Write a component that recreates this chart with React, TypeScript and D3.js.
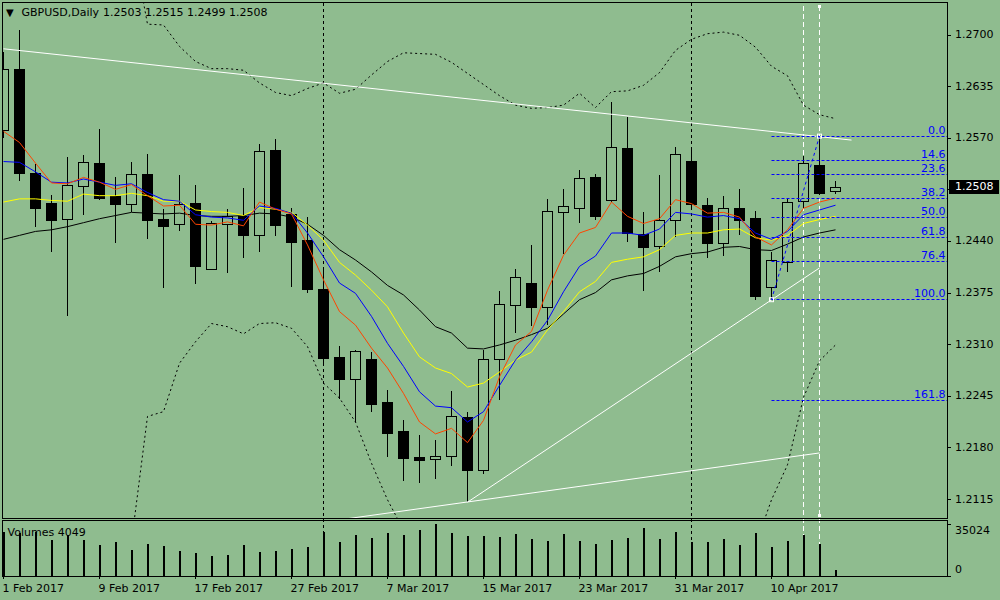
import React from 'react';
import * as d3 from 'd3';

// ---------- DATA ----------
const symbolTitle = 'GBPUSD,Daily';

const tradingDays: Date[] = d3.timeDay
  .range(new Date(2017, 1, 1), new Date(2017, 3, 15))
  .filter((d) => d.getDay() !== 0 && d.getDay() !== 6);
const fmtDate = d3.timeFormat('%-d %b %Y');
const dateLabels = tradingDays.map((d) => fmtDate(d));

const open = [
  1.2580, 1.2657, 1.2526, 1.2488, 1.2468, 1.2509, 1.2538, 1.2496, 1.2486, 1.2524,
  1.2468, 1.2461, 1.2488, 1.2405, 1.2461, 1.2472, 1.2447, 1.2555, 1.2474, 1.2441,
  1.2379, 1.2294, 1.2266, 1.2291, 1.2237, 1.2201, 1.2168, 1.2166, 1.2169, 1.2218,
  1.2151, 1.2291, 1.2359, 1.2387, 1.2357, 1.2477, 1.2482, 1.2520, 1.2492, 1.2557,
  1.2449, 1.2434, 1.2467, 1.2541, 1.2485, 1.2438, 1.2481, 1.2469, 1.2382, 1.2414,
  1.2490, 1.2536, 1.2503,
];
const high = [
  1.2678, 1.2706, 1.2537, 1.2498, 1.2546, 1.2548, 1.2581, 1.2520, 1.2539, 1.2549,
  1.2480, 1.2523, 1.2510, 1.2465, 1.2480, 1.2507, 1.2562, 1.2568, 1.2481, 1.2470,
  1.2403, 1.2308, 1.2303, 1.2300, 1.2252, 1.2214, 1.2195, 1.2189, 1.2251, 1.2224,
  1.2303, 1.2377, 1.2405, 1.2435, 1.2493, 1.2505, 1.2529, 1.2524, 1.2615, 1.2596,
  1.2476, 1.2523, 1.2558, 1.2555, 1.2494, 1.2497, 1.2505, 1.2478, 1.2426, 1.2494,
  1.2547, 1.2572, 1.2515,
];
const low = [
  1.2570, 1.2516, 1.2458, 1.2426, 1.2345, 1.2473, 1.2491, 1.2438, 1.2477, 1.2442,
  1.2381, 1.2453, 1.2386, 1.2403, 1.2400, 1.2419, 1.2426, 1.2446, 1.2382, 1.2374,
  1.2284, 1.2241, 1.2212, 1.2224, 1.2168, 1.2138, 1.2135, 1.2140, 1.2157, 1.2111,
  1.2147, 1.2240, 1.2324, 1.2333, 1.2334, 1.2423, 1.2462, 1.2467, 1.2489, 1.2439,
  1.2377, 1.2401, 1.2445, 1.2479, 1.2418, 1.2421, 1.2447, 1.2365, 1.2366, 1.2401,
  1.2481, 1.2498, 1.2499,
];
const close = [
  1.2657, 1.2526, 1.2481, 1.2467, 1.2510, 1.2539, 1.2494, 1.2487, 1.2524, 1.2467,
  1.2459, 1.2487, 1.2409, 1.2462, 1.2472, 1.2448, 1.2553, 1.2460, 1.2439, 1.2380,
  1.2292, 1.2266, 1.2301, 1.2235, 1.2198, 1.2167, 1.2164, 1.2169, 1.2219, 1.2152,
  1.2291, 1.2360, 1.2395, 1.2357, 1.2478, 1.2484, 1.2519, 1.2472, 1.2558, 1.2450,
  1.2433, 1.2467, 1.2550, 1.2486, 1.2438, 1.2482, 1.2467, 1.2371, 1.2416, 1.2489,
  1.2538, 1.2501, 1.2508,
];
const volume = [
  29840, 28960, 29840, 24250, 27610, 24250, 20880, 22900, 17510, 21550,
  20210, 16840, 15490, 13470, 14140, 20880, 16160, 16840, 18180, 19530,
  29840, 22900, 27610, 25590, 28960, 27610, 30980, 35024, 28960, 26940,
  26940, 26270, 28290, 24920, 23570, 28290, 23570, 21550, 24250, 25590,
  32330, 24920, 29630, 22900, 22900, 24920, 20880, 28960, 19530, 23570,
  27610, 21550, 4049,
];

// moving averages
const maRed = [
  1.2578, 1.2564, 1.2538, 1.2513, 1.2512, 1.2520, 1.2514, 1.2505, 1.2511, 1.2497,
  1.2484, 1.2485, 1.2461, 1.2460, 1.2464, 1.2459, 1.2489, 1.2480, 1.2474, 1.2435,
  1.2391, 1.2351, 1.2334, 1.2305, 1.2280, 1.2248, 1.2212, 1.2197, 1.2204, 1.2186,
  1.2214, 1.2269, 1.2309, 1.2326, 1.2378, 1.2422, 1.2450, 1.2457, 1.2489, 1.2471,
  1.2462, 1.2468, 1.2492, 1.2487, 1.2475, 1.2476, 1.2470, 1.2445, 1.2435, 1.2454,
  1.2481, 1.2489, 1.2494,
];
const maBlue = [
  1.2540, 1.2539, 1.2527, 1.2514, 1.2513, 1.2518, 1.2514, 1.2510, 1.2512, 1.2501,
  1.2492, 1.2490, 1.2473, 1.2470, 1.2469, 1.2466, 1.2484, 1.2481, 1.2475, 1.2450,
  1.2420, 1.2387, 1.2374, 1.2345, 1.2311, 1.2282, 1.2250, 1.2232, 1.2230, 1.2212,
  1.2225, 1.2258, 1.2290, 1.2313, 1.2340, 1.2376, 1.2408, 1.2421, 1.2450, 1.2450,
  1.2447, 1.2455, 1.2476, 1.2474, 1.2470, 1.2472, 1.2468, 1.2450, 1.2442, 1.2452,
  1.2473, 1.2479, 1.2485,
];
const maYellow = [
  1.2489, 1.2493, 1.2493, 1.2491, 1.2490, 1.2499, 1.2497, 1.2497, 1.2500, 1.2497,
  1.2490, 1.2490, 1.2479, 1.2477, 1.2476, 1.2472, 1.2482, 1.2480, 1.2476, 1.2460,
  1.2441, 1.2413, 1.2397, 1.2378, 1.2357, 1.2324, 1.2294, 1.2280, 1.2273, 1.2256,
  1.2261, 1.2275, 1.2290, 1.2300, 1.2328, 1.2351, 1.2376, 1.2389, 1.2413, 1.2417,
  1.2420, 1.2429, 1.2447, 1.2450, 1.2450, 1.2454, 1.2455, 1.2444, 1.2441, 1.2447,
  1.2462, 1.2467, 1.2471,
];
const maBlack = [
  1.2442, 1.2447, 1.2452, 1.2454, 1.2458, 1.2463, 1.2468, 1.2472, 1.2476, 1.2475,
  1.2474, 1.2475, 1.2472, 1.2471, 1.2471, 1.2472, 1.2475, 1.2474, 1.2470, 1.2461,
  1.2447, 1.2429, 1.2416, 1.2401, 1.2384, 1.2372, 1.2353, 1.2332, 1.2324, 1.2305,
  1.2304, 1.2309, 1.2315, 1.2322, 1.2330, 1.2348, 1.2366, 1.2375, 1.2391, 1.2396,
  1.2399, 1.2408, 1.2420, 1.2424, 1.2426, 1.2432, 1.2433, 1.2429, 1.2428, 1.2436,
  1.2445, 1.2450, 1.2454,
];
// bands (dotted black), null where not drawn
const bandUpper: (number | null)[] = [
  null, null, null, null, null, null, null, null, 1.2822, 1.2713,
  1.2712, 1.2685, 1.2666, 1.2657, 1.2657, 1.2655, 1.2639, 1.2627, 1.2623, 1.2632,
  1.2639, 1.2626, 1.2631, 1.2649, 1.2666, 1.2677, 1.2676, 1.2675, 1.2665, 1.2651,
  1.2637, 1.2623, 1.2611, 1.2607, 1.2608, 1.2611, 1.2626, 1.2608, 1.2628, 1.2629,
  1.2636, 1.2652, 1.2680, 1.2694, 1.2701, 1.2703, 1.2699, 1.2684, 1.2660, 1.2648,
  1.2611, 1.2599, 1.2594,
];
const bandLower: (number | null)[] = [
  null, null, null, null, null, null, null, null, 1.2061, 1.2219,
  1.2225, 1.2286, 1.2313, 1.2336, 1.2332, 1.2323, 1.2336, 1.2337, 1.2330, 1.2307,
  1.2261, 1.2242, 1.2212, 1.2160, 1.2114, 1.2076, 1.2038, 1.2000, 1.1975, 1.1937,
  1.1925, 1.1912, 1.1912, 1.1925, 1.1937, 1.1950, 1.1962, 1.1956, 1.1950, 1.1950,
  1.1956, 1.1975, 1.1988, 1.2000, 1.2013, 1.2019, 1.2025, 1.2057, 1.2114, 1.2158,
  1.2243, 1.2289, 1.2309,
];

const priceTicks = [1.27, 1.2635, 1.257, 1.2505, 1.244, 1.2375, 1.231, 1.2245, 1.218, 1.2115];
const volumeMax = 35024;

// trend lines (bar index, price)
const downTrend = [{ bar: 0, price: 1.2682 }, { bar: 53, price: 1.2567 }];
const upTrendSteep = [{ bar: 29, price: 1.2111 }, { bar: 51, price: 1.2406 }];
const upTrendShallow = [{ bar: 20, price: 1.2086 }, { bar: 51, price: 1.2173 }];
const verticalLineBars = [50, 51];

// Fibonacci retracement
const fibHigh = { bar: 51, price: 1.2572 };
const fibLow = { bar: 48, price: 1.2366 };
const fibLevels = [0, 0.146, 0.236, 0.382, 0.5, 0.618, 0.764, 1.0, 1.618];

// ---------- LAYOUT ----------
const W = 1000;
const H = 600;
const BG = '#8fbc8f';
const FIB = 'rgb(0,0,255)';
const FONT = 'DejaVu Sans, Verdana, sans-serif';
const FS = 11;
const paneL = 2.5;
const paneR = 947.5;
const mainTop = 2.5;
const mainBottom = 518;
const volTop = 520.5;
const volBottom = 576;

export default function App() {
  const n = close.length;
  const x = d3.scaleLinear().domain([0, n - 1]).range([3.5, 3.5 + 16 * (n - 1)]);
  const y = d3.scaleLinear().domain([1.2115, 1.27]).range([499, 34.5]);
  const yv = d3.scaleLinear().domain([0, volumeMax]).range([volBottom, 524]);

  const line = d3
    .line<number | null>()
    .defined((v) => v != null)
    .x((_, i) => x(i))
    .y((v) => y(v as number));

  const monthStarts = tradingDays
    .map((d, i) => (i > 0 && d.getMonth() !== tradingDays[i - 1].getMonth() ? i : -1))
    .filter((i) => i >= 0);
  const labelIdx = d3.range(0, n, 6);

  const fibRange = fibHigh.price - fibLow.price;
  const last = n - 1;
  const fmt4 = (v: number) => v.toFixed(4);
  const lastY = y(close[last]);

  const seg = (pts: { bar: number; price: number }[]) => ({
    x1: x(pts[0].bar),
    y1: y(pts[0].price),
    x2: x(pts[1].bar),
    y2: y(pts[1].price),
  });

  return (
    <svg
      width={W}
      height={H}
      style={{ position: 'fixed', left: 0, top: 0, background: BG }}
      fontFamily={FONT}
      fontSize={FS}
    >
      <defs>
        <clipPath id="mainClip">
          <rect x={paneL} y={mainTop} width={paneR - paneL} height={mainBottom - mainTop} />
        </clipPath>
        <clipPath id="volClip">
          <rect x={paneL} y={volTop} width={paneR - paneL} height={volBottom - volTop} />
        </clipPath>
      </defs>
      <rect x={0} y={0} width={W} height={H} fill={BG} />

      {/* period separators through both panes */}
      <g shapeRendering="crispEdges">
        {monthStarts.map((i) => (
          <line key={'ms' + i} x1={x(i)} x2={x(i)} y1={mainTop} y2={volBottom} stroke="#000" strokeDasharray="3,3" />
        ))}
        {verticalLineBars.map((i) => (
          <line key={'vl' + i} x1={x(i)} x2={x(i)} y1={mainTop + 3} y2={volBottom} stroke="#fff" strokeDasharray="5,3" />
        ))}
        <rect x={x(verticalLineBars[1]) - 1.5} y={mainTop + 2} width={3} height={3} fill="#fff" />
        <rect x={x(verticalLineBars[1]) - 1.5} y={mainBottom - 4} width={3} height={3} fill="#fff" />
      </g>

      <g clipPath="url(#mainClip)">
        {/* candles */}
        <g shapeRendering="crispEdges">
          {open.map((o, i) => {
            const c = close[i];
            const up = c >= o;
            const cx = x(i);
            const top = Math.round(y(Math.max(o, c))) + 0.5;
            const bot = Math.round(y(Math.min(o, c))) + 0.5;
            return (
              <g key={'c' + i}>
                <line x1={cx} x2={cx} y1={y(high[i])} y2={y(low[i])} stroke="#000" />
                <rect
                  x={cx - 5}
                  y={top}
                  width={10}
                  height={Math.max(bot - top, 1)}
                  fill={up ? BG : '#000'}
                  stroke="#000"
                />
              </g>
            );
          })}
        </g>

        {/* bands */}
        <path d={line(bandUpper) || ''} fill="none" stroke="#000" strokeDasharray="2,3" />
        <path d={line(bandLower) || ''} fill="none" stroke="#000" strokeDasharray="2,3" />

        {/* moving averages */}
        <path d={line(maBlack) || ''} fill="none" stroke="#000" strokeWidth={1} />
        <path d={line(maYellow) || ''} fill="none" stroke="#ffff00" strokeWidth={1} />
        <path d={line(maBlue) || ''} fill="none" stroke="#0000ff" strokeWidth={1} />
        <path d={line(maRed) || ''} fill="none" stroke="#ff4500" strokeWidth={1} />

        {/* trend lines */}
        <line {...seg(downTrend)} stroke="#fff" />
        <line {...seg(upTrendSteep)} stroke="#fff" />
        <line {...seg(upTrendShallow)} stroke="#fff" />

        {/* fibonacci */}
        {fibLevels.map((lv) => {
          const py = Math.floor(y(fibHigh.price - lv * fibRange)) + 0.5;
          return (
            <g key={'f' + lv}>
              <line x1={x(fibLow.bar)} x2={paneR} y1={py} y2={py} stroke={FIB} strokeWidth={1} strokeDasharray="3,2" />
              <text x={paneR - 2} y={py - 3} textAnchor="end" fill={FIB}>
                {(lv * 100).toFixed(1)}
              </text>
            </g>
          );
        })}
        <line
          x1={x(fibLow.bar)}
          y1={y(fibLow.price)}
          x2={x(fibHigh.bar)}
          y2={y(fibHigh.price)}
          stroke={FIB}
          strokeDasharray="3,3"
        />
        <rect x={x(fibLow.bar) - 2} y={y(fibLow.price) - 2} width={4} height={4} fill="none" stroke="#fff" />
        <rect x={x(fibHigh.bar) - 2} y={y(fibHigh.price) - 2} width={4} height={4} fill="none" stroke="#fff" />
      </g>

      {/* volumes */}
      <g clipPath="url(#volClip)" shapeRendering="crispEdges">
        {volume.map((v, i) => (
          <line key={'v' + i} x1={x(i)} x2={x(i)} y1={yv(0)} y2={yv(v)} stroke="#000" strokeWidth={2} />
        ))}
      </g>

      {/* frames */}
      <g shapeRendering="crispEdges" fill="none" stroke="#000">
        <rect x={paneL} y={mainTop} width={paneR - paneL} height={mainBottom - mainTop} />
        <rect x={paneL} y={volTop} width={paneR - paneL} height={volBottom - volTop} />
      </g>

      {/* price axis */}
      <g shapeRendering="crispEdges">
        {priceTicks.map((p) => (
          <g key={'pt' + p}>
            <line x1={paneR} x2={paneR + 3} y1={Math.round(y(p)) + 0.5} y2={Math.round(y(p)) + 0.5} stroke="#000" />
            {Math.abs(y(p) - lastY) > 12 && (
              <text x={955} y={y(p)} dominantBaseline="central" fill="#000">
                {fmt4(p)}
              </text>
            )}
          </g>
        ))}
        <rect x={948.5} y={lastY - 7} width={50} height={14} fill="#000" />
        <text x={955} y={lastY} dominantBaseline="central" fill="#fff">
          {fmt4(close[last])}
        </text>
      </g>

      {/* volume axis */}
      <g shapeRendering="crispEdges">
        <line x1={paneR} x2={paneR + 3} y1={yv(volumeMax)} y2={yv(volumeMax)} stroke="#000" />
        <line x1={paneR} x2={paneR + 3} y1={yv(0)} y2={yv(0)} stroke="#000" />
        <text x={955} y={530} dominantBaseline="central" fill="#000">
          {String(volumeMax)}
        </text>
        <text x={955} y={569} dominantBaseline="central" fill="#000">
          0
        </text>
        <text x={7.5} y={532} dominantBaseline="central" fill="#000">
          {'Volumes ' + volume[last]}
        </text>
      </g>

      {/* date axis */}
      <g shapeRendering="crispEdges">
        {labelIdx.map((i) => (
          <g key={'d' + i}>
            <line x1={x(i)} x2={x(i)} y1={volBottom} y2={volBottom + 3} stroke="#000" />
            <text x={x(i) - 1} y={588} dominantBaseline="central" fill="#000">
              {dateLabels[i]}
            </text>
          </g>
        ))}
      </g>

      {/* header */}
      <text x={6} y={12} dominantBaseline="central" fontSize={10} fill="#000">
        ▼
      </text>
      <text x={21.5} y={12} dominantBaseline="central" fill="#000">
        {symbolTitle}
      </text>
      <text x={103} y={12} dominantBaseline="central" fill="#000">
        {[open[last], high[last], low[last], close[last]].map(fmt4).join(' ')}
      </text>
    </svg>
  );
}
